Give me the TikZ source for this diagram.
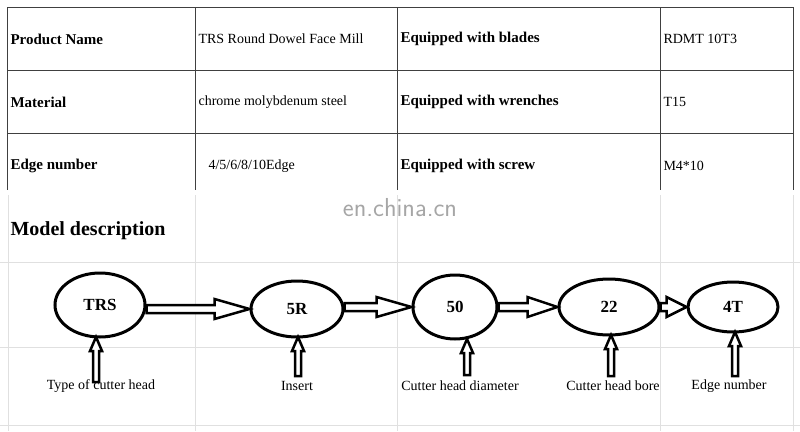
\documentclass[tikz,border=0pt]{standalone}
\usepackage{fontspec}
\setmainfont{Liberation Serif}
\usetikzlibrary{calc,shapes.geometric}
\begin{document}
\begin{tikzpicture}[x=1pt,y=-1pt,
  grid/.style={draw=black!12,line width=0.6pt},
  tab/.style={draw=black!75,line width=0.8pt},
  key/.style={anchor=west,font=\bfseries\fontsize{15}{17}\selectfont},
  val/.style={anchor=west,font=\fontsize{14}{16}\selectfont},
  el/.style={ellipse,draw,line width=3pt,font=\bfseries\fontsize{17}{19}\selectfont,inner sep=0pt},
  lab/.style={font=\fontsize{14}{16}\selectfont},
  arr/.style={draw,line width=2.5pt,line join=miter,fill=white}]
\useasboundingbox (0,0) rectangle (800,431);
% light grid
\foreach \y in {262,347,425} \draw[grid] (0,\y) -- (800,\y);
\foreach \x in {8,195,397,660,793} \draw[grid] (\x,195) -- (\x,431);
% table
\foreach \y in {7,70,133} \draw[tab] (7,\y) -- (793,\y);
\foreach \x in {7,195,397,660,793} \draw[tab] (\x,7) -- (\x,190);
\node[key] (k1) at (7,39) {Product Name};
\node[val] (v1) at (195,39) {TRS Round Dowel Face Mill};
\node[key] (k2) at (397,39) {Equipped with blades};
\node[val] (v2) at (660,39) {RDMT 10T3};
\node[key] (k3) at (7,102) {Material};
\node[val] (v3) at (195,102) {chrome molybdenum steel};
\node[key] (k4) at (397,102) {Equipped with wrenches};
\node[val] (v4) at (660,102) {T15};
\node[key] (k5) at (7,166) {Edge number};
\node[val] (v5) at (205,166) {4/5/6/8/10Edge};
\node[key] (k6) at (397,166) {Equipped with screw};
\node[val] (v6) at (660,166) {M4*10};
\node[text=black!35,font=\fontsize{26}{28}\selectfont\sffamily] (wm) at (400,208) {en.china.cn};
\node[anchor=west,font=\bfseries\fontsize{20}{23}\selectfont] (md) at (7,231) {Model description};
% ellipses
\node[el,minimum width=90pt,minimum height=64pt] (e1) at (100,305) {TRS};
\node[el,minimum width=92pt,minimum height=56pt] (e2) at (297,309) {5R};
\node[el,minimum width=84pt,minimum height=64pt] (e3) at (455,307) {50};
\node[el,minimum width=100pt,minimum height=56pt] (e4) at (609,307) {22};
\node[el,minimum width=90pt,minimum height=50pt] (e5) at (733,307) {4T};
% labels
\node[lab] (l1) at (101,386) {Type of cutter head};
\node[lab] (l2) at (297,386) {Insert};
\node[lab] (l3) at (460,386) {Cutter head diameter};
\node[lab] (l4) at (613,386) {Cutter head bore};
\node[lab] (l5) at (729,386) {Edge number};
% horizontal hollow arrows: from, to, y, head length
\newcommand{\harr}[4]{%
  \path let \p1=(#1.east), \p2=(#2.west) in
   [arr] (\x1,#3-4) -- (\x2-#4,#3-4) -- (\x2-#4,#3-10) -- (\x2,#3) -- (\x2-#4,#3+10) -- (\x2-#4,#3+4) -- (\x1,#3+4) -- cycle;}
\harr{e1}{e2}{309}{35}
\harr{e2}{e3}{307}{35}
\harr{e3}{e4}{307}{30}
\harr{e4}{e5}{307}{20}
% vertical hollow arrows: x, tip y, base y
\newcommand{\varr}[3]{%
  \path[arr] (#1-3,#3) -- (#1-3,#2+14) -- (#1-6,#2+14) -- (#1,#2) -- (#1+6,#2+14) -- (#1+3,#2+14) -- (#1+3,#3) -- cycle;}
\varr{96}{337}{382}
\varr{298}{337}{376}
\varr{467}{339}{375}
\varr{611}{335}{376}
\varr{735}{332}{376}
\end{tikzpicture}
\end{document}
